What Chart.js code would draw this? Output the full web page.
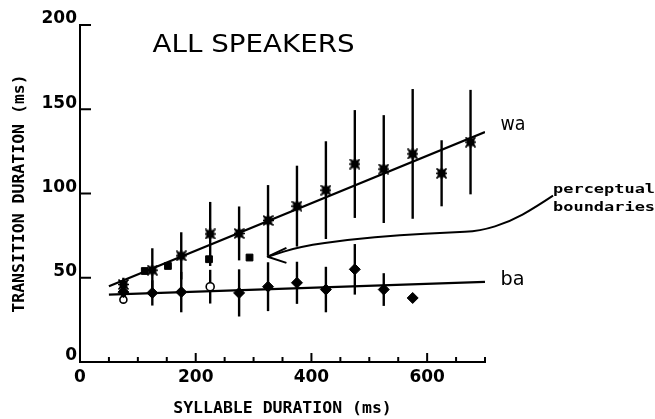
<!DOCTYPE html>
<html><head><meta charset="utf-8">
<script src="https://cdn.jsdelivr.net/npm/chart.js@4.4.1/dist/chart.umd.min.js"></script>
<style>html,body{margin:0;padding:0;background:#fff;}#wrap{width:655px;height:419px;}</style>
</head><body><div id="wrap"><canvas id="c" width="655" height="419"></canvas></div>
<script>
// ---- data ----
const waX   = [75,125,175,225,275,325,375,425,475,525,575,625,675];
const waY   = [46,54.5,63,76,76.3,84,92.5,102,117.5,114.5,123.5,112,130.5];
const waErr = [4,13,14,19,16,21,24,29,32,32,38.5,19.6,31];
const baX   = [75,125,175,225,275,325,375,425,475,525,575];
const baY   = [41.5,41,41.5,44.7,41,44.7,47,43,55,43,38];
const baErr = [0,7.5,12,10,14,14.5,12.5,13.5,15,9.7,0];
const bndX  = [112,152,223,293];
const bndY  = [54,57,61,62];
const openX = [75];
const openY = [37];
const fitX   = [50,700];
const waFitY = [45,136.5];
const baFitY = [40,47.5];
const xTicks = [0,200,400,600];
const yTicks = [0,50,100,150,200];

const pts = (xs, ys) => xs.map((v, i) => ({x: v, y: ys[i]}));

function makeStar(){
  const c = document.createElement('canvas'); c.width = 11; c.height = 11;
  const g = c.getContext('2d');
  g.fillStyle = '#000'; g.fillRect(1.5,1.5,8,8);
  g.strokeStyle = '#000'; g.lineWidth = 1.6; g.beginPath();
  g.moveTo(5.5,0); g.lineTo(5.5,11); g.moveTo(0,5.5); g.lineTo(11,5.5);
  g.moveTo(0.5,0.5); g.lineTo(10.5,10.5); g.moveTo(10.5,0.5); g.lineTo(0.5,10.5);
  g.stroke();
  return c;
}
const star = makeStar();

function fitText(ctx, txt, px, py, font, w){
  ctx.save(); ctx.font = font; ctx.textAlign = 'left'; ctx.textBaseline = 'alphabetic';
  const m = ctx.measureText(txt).width;
  ctx.translate(px, py); ctx.scale(w / m, 1); ctx.fillStyle = '#000'; ctx.fillText(txt, 0, 0);
  ctx.restore();
}

const deco = {
  id: 'deco',
  beforeDatasetsDraw(chart){
    const {ctx, scales: {x, y}} = chart;
    ctx.save(); ctx.strokeStyle = '#000'; ctx.lineCap = 'butt';
    ctx.lineWidth = 2.4;
    const bars = (xs, ys, es) => xs.forEach((v, i) => {
      if (!es[i]) return;
      const px = x.getPixelForValue(v);
      ctx.beginPath();
      ctx.moveTo(px, y.getPixelForValue(ys[i] - es[i]));
      ctx.lineTo(px, y.getPixelForValue(ys[i] + es[i]));
      ctx.stroke();
    });
    bars(waX, waY, waErr); bars(baX, baY, baErr);
    ctx.lineWidth = 2;
    for (let v = 50; v <= 700; v += 50){
      const px = x.getPixelForValue(v), len = v % 200 === 0 ? 9 : 5;
      ctx.beginPath(); ctx.moveTo(px, y.bottom); ctx.lineTo(px, y.bottom - len); ctx.stroke();
    }
    for (let v = 50; v <= 200; v += 50){
      const py = y.getPixelForValue(v);
      ctx.beginPath(); ctx.moveTo(x.left, py); ctx.lineTo(x.left + 11, py); ctx.stroke();
    }
    ctx.restore();
  },
  afterDraw(chart){
    const {ctx, scales: {x, y}} = chart;
    const P = (a, b) => [x.getPixelForValue(a), y.getPixelForValue(b)];
    // annotation texts
    let p = P(125.4, 183.7); fitText(ctx, 'ALL SPEAKERS', p[0], p[1], '24px "DejaVu Sans"', 202);
    p = P(726.8, 137.9); fitText(ctx, 'wa', p[0], p[1], '20px "DejaVu Sans"', 25);
    p = P(727, 45.9); fitText(ctx, 'ba', p[0], p[1], '20px "DejaVu Sans"', 24);
    p = P(817.6, 100.5); fitText(ctx, 'perceptual', p[0], p[1], 'bold 13px "DejaVu Sans Mono"', 102);
    p = P(817.6, 89.5); fitText(ctx, 'boundaries', p[0], p[1], 'bold 13px "DejaVu Sans Mono"', 102);
    // arrow curve
    const curve = [[817.6,98.7],[786.5,91.6],[743.2,83.3],[691.3,77.7],[639.4,76.8],[552.9,75.3],[466.3,72.7],[379.8,68.5],[324.4,62.5]].map(q => P(q[0], q[1]));
    ctx.save(); ctx.strokeStyle = '#000'; ctx.lineWidth = 2; ctx.lineJoin = 'round';
    ctx.beginPath(); ctx.moveTo(curve[0][0], curve[0][1]);
    for (let i = 1; i < curve.length - 1; i++){
      const mx = (curve[i][0] + curve[i+1][0]) / 2, my = (curve[i][1] + curve[i+1][1]) / 2;
      ctx.quadraticCurveTo(curve[i][0], curve[i][1], mx, my);
    }
    const last = curve[curve.length - 1];
    ctx.lineTo(last[0], last[1]);
    ctx.stroke();
    const a1 = P(356.8, 67.7), a2 = P(356.8, 58.8);
    ctx.beginPath(); ctx.moveTo(a1[0], a1[1]); ctx.lineTo(last[0], last[1]); ctx.lineTo(a2[0], a2[1]); ctx.stroke();
    ctx.restore();
  }
};

new Chart(document.getElementById('c'), {
  type: 'scatter',
  data: {
    datasets: [
      {data: pts(fitX, waFitY), showLine: true, borderColor: '#000', borderWidth: 2.2, pointRadius: 0},
      {data: pts(fitX, baFitY), showLine: true, borderColor: '#000', borderWidth: 2.2, pointRadius: 0},
      {data: pts(waX, waY), pointStyle: star, pointRadius: 5},
      {data: pts(baX, baY),
       pointStyle: c => c.dataIndex === 3 ? 'circle' : 'rectRot',
       pointRadius: c => c.dataIndex === 3 ? 4 : 5.5,
       pointBackgroundColor: c => c.dataIndex === 3 ? '#fff' : '#000',
       pointBorderColor: '#000', pointBorderWidth: c => c.dataIndex === 3 ? 1.6 : 1},
      {data: pts(bndX, bndY), pointStyle: 'rect', pointRadius: 4.8, pointBackgroundColor: '#000', pointBorderColor: '#000', pointBorderWidth: 1},
      {data: pts(openX, openY), pointStyle: 'circle', pointRadius: 3.5, pointBackgroundColor: '#fff', pointBorderColor: '#000', pointBorderWidth: 1.6}
    ]
  },
  options: {
    responsive: false, animation: false, devicePixelRatio: 1,
    layout: {padding: {left: 0, right: 170, top: 25, bottom: 0}},
    plugins: {legend: {display: false}, tooltip: {enabled: false}},
    scales: {
      x: {
        type: 'linear', min: 0, max: 700,
        afterBuildTicks: s => { s.ticks = xTicks.map(v => ({value: v})); },
        afterFit: s => { s.height = 57; },
        grid: {display: false, drawTicks: false},
        border: {display: true, color: '#000', width: 2},
        ticks: {color: '#000', padding: 5, font: {family: 'DejaVu Sans', size: 17, weight: 'bold'}},
        title: {display: true, text: 'SYLLABLE DURATION (ms)', color: '#000', padding: {top: 0, bottom: 0}, font: {family: 'DejaVu Sans Mono', size: 16.5, weight: 'bold'}}
      },
      y: {
        type: 'linear', min: 0, max: 200,
        afterBuildTicks: s => { s.ticks = yTicks.map(v => ({value: v})); },
        afterFit: s => { s.width = 80; },
        grid: {display: false, drawTicks: false},
        border: {display: true, color: '#000', width: 2},
        ticks: {color: '#000', padding: 3, labelOffset: -6, font: {family: 'DejaVu Sans', size: 17, weight: 'bold'}},
        title: {display: true, text: 'TRANSITION DURATION (ms)', color: '#000', padding: {top: 10, bottom: 0}, font: {family: 'DejaVu Sans Mono', size: 16.5, weight: 'bold'}}
      }
    }
  },
  plugins: [deco]
});
</script>
</body></html>
